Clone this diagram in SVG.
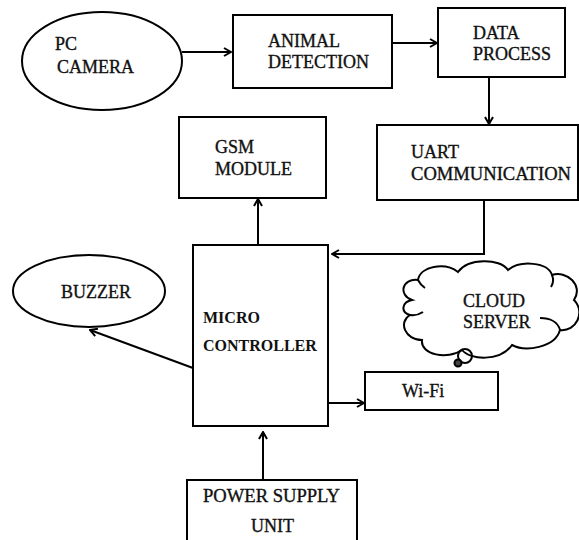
<svg xmlns="http://www.w3.org/2000/svg" width="579" height="540" viewBox="0 0 579 540">
<defs>
<style>
.box{fill:#fff;stroke:#000;stroke-width:2}
.t{font-family:'Liberation Serif',serif;font-size:18px;fill:#111;stroke:#111;stroke-width:0.35}
.b{font-family:'Liberation Serif',serif;font-size:16px;font-weight:bold;fill:#111}
.c{fill:none;stroke:#000;stroke-width:2}
</style>
<marker id="arr" viewBox="0 0 10 10" refX="9" refY="5" markerWidth="10" markerHeight="10" markerUnits="userSpaceOnUse" orient="auto">
<path d="M2,1 L9,5 L2,9" fill="none" stroke="#000" stroke-width="2"/>
</marker>
</defs>
<rect width="579" height="540" fill="#fff"/>
<g id="connectors">
<line class="c" x1="182" y1="52" x2="231" y2="52" marker-end="url(#arr)"/>
<line class="c" x1="392" y1="43" x2="437" y2="43" marker-end="url(#arr)"/>
<line class="c" x1="489" y1="77" x2="489" y2="124" marker-end="url(#arr)"/>
<path class="c" d="M484,200 V254 H332" marker-end="url(#arr)"/>
<line class="c" x1="258" y1="245" x2="258" y2="199" marker-end="url(#arr)"/>
<line class="c" x1="193" y1="368" x2="90" y2="330" marker-end="url(#arr)"/>
<line class="c" x1="328" y1="403" x2="364" y2="403" marker-end="url(#arr)"/>
<line class="c" x1="263" y1="480" x2="263" y2="432" marker-end="url(#arr)"/>
</g>
<g id="pc-camera">
<ellipse class="box" cx="102" cy="61" rx="80" ry="49"/>
<text class="t" x="55" y="50">PC</text>
<text class="t" x="57" y="73">CAMERA</text>
</g>
<g id="animal-detection">
<rect class="box" x="233" y="15" width="159" height="73"/>
<text class="t" x="268" y="47">ANIMAL</text>
<text class="t" x="268" y="68">DETECTION</text>
</g>
<g id="data-process">
<rect class="box" x="438" y="8" width="127" height="69"/>
<text class="t" x="473" y="39">DATA</text>
<text class="t" x="473" y="60">PROCESS</text>
</g>
<g id="gsm-module">
<rect class="box" x="179" y="117" width="147" height="81"/>
<text class="t" x="215" y="153">GSM</text>
<text class="t" x="215" y="175">MODULE</text>
</g>
<g id="uart">
<rect class="box" x="377" y="125" width="201" height="75"/>
<text class="t" x="411" y="158">UART</text>
<text class="t" x="411" y="180" textLength="160" lengthAdjust="spacingAndGlyphs">COMMUNICATION</text>
</g>
<g id="microcontroller">
<rect class="box" x="193" y="245" width="135" height="181"/>
<text class="b" x="203" y="323">MICRO</text>
<text class="b" x="203" y="351">CONTROLLER</text>
</g>
<g id="buzzer">
<ellipse class="box" cx="89" cy="291" rx="76" ry="36"/>
<text class="t" x="61" y="298">BUZZER</text>
</g>
<g id="cloud-server">
<path class="box" d="M412,300 C398,295 402,278 418,280 C420,266 445,262 458,272 C468,258 500,258 508,270 C520,260 548,262 552,275 C566,270 584,285 574,300 C586,312 576,332 560,330 C555,348 525,352 512,345 C500,362 470,360 462,350 C448,360 420,355 422,340 C405,340 398,322 410,315 C400,312 402,302 412,300 Z"/>
<path class="c" d="M418,280 C420,284 422,286 425,288 M410,315 C416,316 420,314 423,312 M540,318 C550,318 558,322 560,330 M552,275 C554,280 553,284 551,287"/>
<circle cx="465" cy="356" r="7" class="c" fill="#fff"/>
<circle cx="458" cy="363" r="3.5" fill="#444" stroke="#000" stroke-width="2"/>
<text class="t" x="463" y="307">CLOUD</text>
<text class="t" x="463" y="328">SERVER</text>
</g>
<g id="wifi">
<rect class="box" x="365" y="372" width="133" height="38"/>
<text class="t" x="402" y="397">Wi-Fi</text>
</g>
<g id="power-supply">
<rect class="box" x="187" y="480" width="170" height="70"/>
<text class="t" x="203" y="502" textLength="137" lengthAdjust="spacingAndGlyphs">POWER SUPPLY</text>
<text class="t" x="251" y="532">UNIT</text>
</g>
</svg>
